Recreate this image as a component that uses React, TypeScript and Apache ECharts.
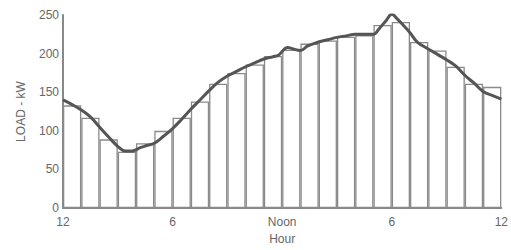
import React, { useEffect, useRef } from "react";
import * as echarts from "echarts";

const hours: string[] = Array.from({ length: 24 }, (_, i) => String(i));
const hourlyLoad: number[] = [133, 117, 89, 73, 84, 100, 117, 138, 161, 175, 186, 197, 205, 213, 217, 222, 224, 237, 241, 215, 204, 183, 161, 157];
const curveHours: number[] = [0, 0.5, 1, 1.5, 2, 2.5, 3, 3.4, 3.8, 4.2, 4.6, 5, 5.5, 6, 6.5, 7, 7.5, 8, 8.5, 9, 9.5, 10, 10.5, 11, 11.5, 11.8, 12.3, 12.6, 13, 13.4, 14, 14.5, 15, 15.5, 16, 16.5, 17, 17.3, 17.7, 18, 18.3, 18.7, 19, 19.4, 20, 20.5, 21, 21.5, 22, 22.5, 23, 23.5, 24];
const curveLoad: number[] = [140, 134, 127, 118, 105, 92, 80, 74, 74, 78, 81, 84, 93, 103, 115, 128, 140, 152, 163, 171, 177, 183, 188, 193, 196, 198, 208, 206, 204, 210, 215, 218, 221, 223, 225, 225, 225, 232, 243, 251, 245, 235, 227, 215, 206, 199, 192, 184, 172, 162, 151, 146, 141];
const hourTickLabels: Record<number, string> = { 0: "12", 6: "6", 12: "Noon", 18: "6", 24: "12" };
const yTicks: number[] = [0, 50, 100, 150, 200, 250];

export default function App() {
  const ref = useRef<HTMLDivElement>(null);
  useEffect(() => {
    if (!ref.current) return;
    const chart = echarts.init(ref.current, null, { renderer: "svg" });
    const font = "'Liberation Sans', Arial, sans-serif";
    chart.setOption({
      animation: false,
      grid: { left: 63, right: 7, top: 15, bottom: 34.5 },
      xAxis: [
        {
          type: "category",
          data: hours,
          boundaryGap: true,
          show: false,
        },
        {
          type: "value",
          min: 0,
          max: 24,
          interval: 6,
          position: "bottom",
          name: "Hour",
          nameLocation: "middle",
          nameGap: 20,
          nameTextStyle: { color: "#666", fontSize: 12, fontFamily: font },
          axisLine: { show: true, lineStyle: { color: "#888", width: 2 } },
          axisTick: { show: false },
          splitLine: { show: false },
          axisLabel: {
            color: "#666",
            fontSize: 12,
            fontFamily: font,
            margin: 8,
            formatter: (v: number) => hourTickLabels[v] ?? "",
          },
        },
      ],
      yAxis: {
        type: "value",
        min: yTicks[0],
        max: yTicks[yTicks.length - 1],
        interval: 50,
        name: "LOAD - kW",
        nameLocation: "middle",
        nameGap: 36,
        nameTextStyle: { color: "#666", fontSize: 12, fontFamily: font },
        axisLine: { show: true, lineStyle: { color: "#888", width: 2 } },
        axisTick: { show: false },
        splitLine: { show: false },
        axisLabel: { color: "#666", fontSize: 12, fontFamily: font, margin: 4 },
      },
      series: [
        {
          type: "bar",
          xAxisIndex: 0,
          data: hourlyLoad,
          barCategoryGap: "0%",
          itemStyle: { color: "#fff", borderColor: "#8a8a8a", borderWidth: 1.3 },
          silent: true,
        },
        {
          type: "line",
          xAxisIndex: 1,
          data: curveHours.map((h, i) => [h, curveLoad[i]]),
          smooth: 0.4,
          showSymbol: false,
          lineStyle: { color: "#555", width: 3 },
          z: 5,
        },
      ],
    });
    return () => chart.dispose();
  }, []);
  return <div ref={ref} style={{ width: 511, height: 250, position: "absolute", left: 0, top: 0 }} />;
}
